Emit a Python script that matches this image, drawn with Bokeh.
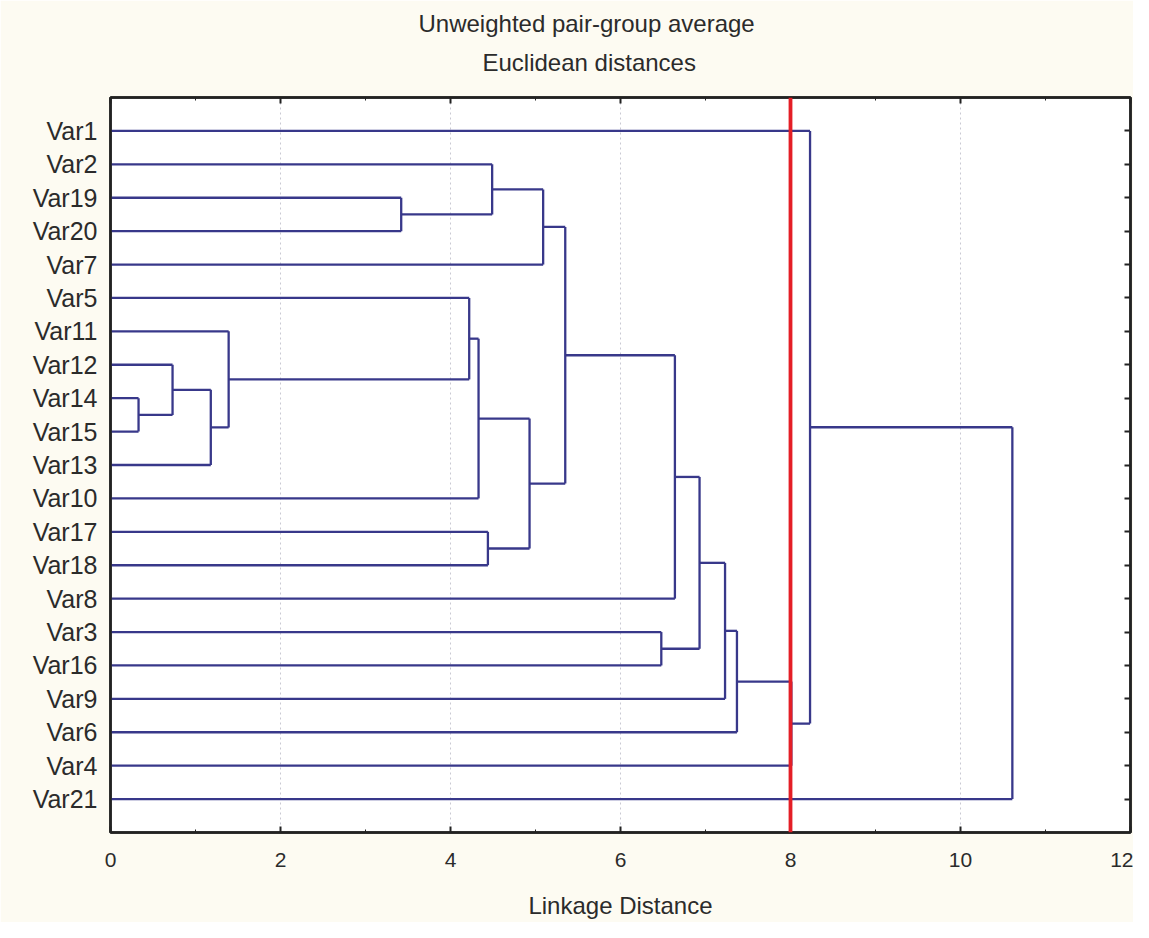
from bokeh.plotting import figure
from bokeh.models import (ColumnDataSource, Range1d, LinearAxis, FixedTicker,
                          Title, Span)
from bokeh.embed import file_html
from bokeh.resources import INLINE

# ---------------- data ----------------
leaves = ["Var1", "Var2", "Var19", "Var20", "Var7", "Var5", "Var11", "Var12",
          "Var14", "Var15", "Var13", "Var10", "Var17", "Var18", "Var8", "Var3",
          "Var16", "Var9", "Var6", "Var4", "Var21"]

# merge k creates cluster "C{k+1}"
merge_left = ["Var14", "Var12", "C2", "Var11", "Var19", "Var5", "C6", "Var17",
              "Var2", "C7", "C9", "C11", "Var3", "C12", "C14", "C15", "C16",
              "C17", "Var1", "C19"]
merge_right = ["Var15", "C1", "Var13", "C3", "Var20", "C4", "Var10", "Var18",
               "C5", "C8", "Var7", "C10", "Var16", "Var8", "C13", "Var9",
               "Var6", "Var4", "C18", "Var21"]
merge_height = [0.33, 0.73, 1.18, 1.39, 3.42, 4.22, 4.33, 4.44, 4.49, 4.93,
                5.09, 5.35, 6.48, 6.64, 6.93, 7.23, 7.37, 8.01, 8.23, 10.61]

cut_distance = 8.0
x_ticks = [0, 2, 4, 6, 8, 10, 12]
x_minor_ticks = [1, 3, 5, 7, 9, 11]

# ---------------- dendrogram layout ----------------
pos = {name: float(i) for i, name in enumerate(leaves)}
hgt = {name: 0.0 for name in leaves}
x0, y0, x1, y1 = [], [], [], []
for k, (a, b, h) in enumerate(zip(merge_left, merge_right, merge_height)):
    for c in (a, b):
        x0.append(hgt[c]); y0.append(pos[c]); x1.append(h); y1.append(pos[c])
    x0.append(h); y0.append(pos[a]); x1.append(h); y1.append(pos[b])
    name = "C%d" % (k + 1)
    pos[name] = (pos[a] + pos[b]) / 2.0
    hgt[name] = h

src = ColumnDataSource(dict(x0=x0, y0=y0, x1=x1, y1=y1))

FONT = "Liberation Sans"
TXT = "#2b2b2b"
CREAM = "#fdfbf2"
DARK = "#222222"

p = figure(width=1133, height=922, output_backend="svg", toolbar_location=None,
           x_range=Range1d(0, 12), y_range=Range1d(21, -1),
           min_border_left=110, min_border_right=3, min_border_top=97,
           min_border_bottom=90)
p.background_fill_color = "white"
p.border_fill_color = CREAM
p.outline_line_color = DARK
p.outline_line_width = 2.5

# grid
p.xgrid.ticker = FixedTicker(ticks=[2, 4, 6, 8, 10])
p.xgrid.grid_line_color = "#c9c9d2"
p.xgrid.grid_line_dash = "2 3"
p.xgrid.grid_line_width = 1
p.ygrid.visible = False

# bottom axis
xb = p.xaxis[0]
xb.ticker = FixedTicker(ticks=x_ticks, minor_ticks=x_minor_ticks)
xb.major_tick_in = 6
xb.major_tick_out = 0
xb.minor_tick_in = 3
xb.minor_tick_out = 0
xb.major_tick_line_color = DARK
xb.minor_tick_line_color = DARK
xb.major_tick_line_width = 2
xb.axis_line_color = DARK
xb.axis_line_width = 2.5
xb.major_label_text_font = FONT
xb.major_label_text_font_size = "21px"
xb.major_label_text_color = TXT
xb.major_label_standoff = 20
xb.axis_label = "Linkage Distance"
xb.axis_label_text_font = FONT
xb.axis_label_text_font_size = "24px"
xb.axis_label_text_font_style = "normal"
xb.axis_label_text_color = TXT
xb.axis_label_standoff = 22

# left axis
yl = p.yaxis[0]
yl.ticker = FixedTicker(ticks=list(range(len(leaves))), minor_ticks=[])
yl.major_label_overrides = {i: n for i, n in enumerate(leaves)}
yl.major_tick_in = 0
yl.major_tick_out = 0
yl.minor_tick_line_color = None
yl.axis_line_color = DARK
yl.axis_line_width = 2.5
yl.major_label_text_font = FONT
yl.major_label_text_font_size = "25px"
yl.major_label_text_color = TXT
yl.major_label_standoff = 13

# top axis (ticks only, labels not painted)
xt = LinearAxis(ticker=FixedTicker(ticks=x_ticks, minor_ticks=x_minor_ticks),
                major_tick_in=6, major_tick_out=0, minor_tick_in=3, minor_tick_out=0,
                major_tick_line_width=2, major_tick_line_color=DARK,
                minor_tick_line_color=DARK,
                major_label_text_font_size="1px", major_label_text_color=None,
                major_label_standoff=0, axis_line_color=DARK, axis_line_width=2.5)
p.add_layout(xt, "above")

# right axis (ticks only, labels not painted)
yr = LinearAxis(ticker=FixedTicker(ticks=list(range(len(leaves))), minor_ticks=[]),
                major_tick_in=6, major_tick_out=0, minor_tick_line_color=None,
                major_tick_line_width=2, major_tick_line_color=DARK,
                major_label_text_font_size="1px", major_label_text_color=None,
                major_label_standoff=0, axis_line_color=DARK, axis_line_width=2.5)
p.add_layout(yr, "right")

# titles
t2 = Title(text="Euclidean distances", align="left", offset=372,
           text_font=FONT, text_font_size="24px", text_font_style="normal",
           text_color=TXT, standoff=10,
           padding=dict(left=0, right=0, top=0, bottom=17))
t1 = Title(text="Unweighted pair-group average", align="left", offset=308,
           text_font=FONT, text_font_size="24px", text_font_style="normal",
           text_color=TXT, standoff=10)
p.add_layout(t2, "above")
p.add_layout(t1, "above")

# dendrogram
p.segment("x0", "y0", "x1", "y1", source=src, line_color="#38388a",
          line_width=2.3)

# cut line
p.add_layout(Span(location=cut_distance, dimension="height",
                  line_color="#e41e26", line_width=3.8))

open("out.html", "w").write(file_html(p, INLINE))
